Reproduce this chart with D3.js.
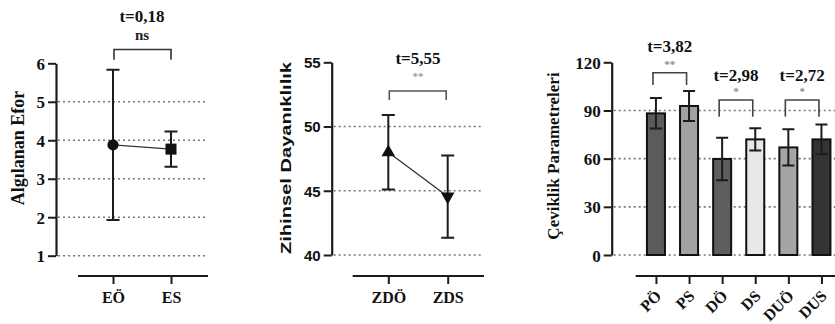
<!DOCTYPE html>
<html><head><meta charset="utf-8">
<script src="https://cdn.jsdelivr.net/npm/d3@7"></script>
<style>
html,body{margin:0;padding:0;background:#fff;}
svg{display:block;}
</style></head>
<body>
<svg id="c" width="835" height="324"></svg>
<script>
// ---- Panel 1: Algılanan Efor
const p1Cats = ["EÖ", "ES"];
const p1Mean = [3.88, 3.77];
const p1Err = [1.95, 0.46];
const p1Ticks = [1, 2, 3, 4, 5, 6];
const p1Grid = [1, 2, 3, 4, 5];
const p1Test = { t: "t=0,18", sig: "ns" };

// ---- Panel 2: Zihinsel Dayanıklılık
const p2Cats = ["ZDÖ", "ZDS"];
const p2Mean = [48.0, 44.55];
const p2Err = [2.9, 3.2];
const p2Ticks = [40, 45, 50, 55];
const p2Grid = [40, 45, 50];
const p2Test = { t: "t=5,55", sig: "**" };

// ---- Panel 3: Çeviklik Parametreleri
const p3Cats = ["PÖ", "PS", "DÖ", "DS", "DUÖ", "DUS"];
const p3Mean = [88.2, 92.8, 59.8, 72.0, 67.0, 72.0];
const p3Err = [9.5, 9.4, 13.2, 7.0, 11.3, 9.3];
const p3Ticks = [0, 30, 60, 90, 120];
const p3Grid = [0, 30, 60, 90];
const p3Tests = [
  { a: "PÖ", b: "PS", t: "t=3,82", sig: "**" },
  { a: "DÖ", b: "DS", t: "t=2,98", sig: "*" },
  { a: "DUÖ", b: "DUS", t: "t=2,72", sig: "*" }
];
const p3Fill = ["#5b5b5b", "#a2a2a2", "#5e5e5e", "#e8e8e8", "#a5a5a5", "#343434"];

const svg = d3.select("#c");
const INK = "#1c1c1c";
const SERIF = "Liberation Serif, Times New Roman, serif";
const SANS = "Liberation Sans, Arial, sans-serif";

function yAxis(g, y, ticks, font, x0, size) {
  const ax = g.append("g").attr("transform", `translate(${x0},0)`)
    .call(d3.axisLeft(y).tickValues(ticks).tickSize(8).tickPadding(3).tickSizeOuter(0).tickFormat(d3.format("d")));
  ax.attr("font-family", font).attr("font-size", size);
  ax.select(".domain").attr("stroke", INK).attr("stroke-width", 2.2);
  ax.selectAll(".tick line").attr("stroke", INK).attr("stroke-width", 2);
  ax.selectAll(".tick text").attr("fill", "#111").style("font-family", font)
    .style("font-weight", "bold").style("font-size", size + "px").attr("dy", "0.36em");
  return ax;
}
function grid(g, y, vals, x0, x1) {
  g.append("g").selectAll("line").data(vals).join("line")
    .attr("x1", x0 + 2).attr("x2", x1).attr("y1", d => y(d)).attr("y2", d => y(d))
    .attr("stroke", "#777").attr("stroke-width", 1.6).attr("stroke-dasharray", "2,3");
}
function xAxis(g, x, yPos, lx0, lx1, font, rotate) {
  const ax = g.append("g").attr("transform", `translate(0,${yPos})`)
    .call(d3.axisBottom(x).tickSize(8).tickSizeOuter(0).tickPadding(8));
  ax.attr("font-family", font).attr("font-size", 16);
  ax.select(".domain").remove();
  ax.append("line").attr("x1", lx0).attr("x2", lx1).attr("y1", 0).attr("y2", 0)
    .attr("stroke", INK).attr("stroke-width", 2.2);
  ax.selectAll(".tick line").attr("stroke", INK).attr("stroke-width", 2);
  const t = ax.selectAll(".tick text").attr("fill", "#111").style("font-family", font)
    .style("font-weight", "bold").style("font-size", "16px");
  if (rotate) {
    t.attr("text-anchor", "end").attr("dy", "0.35em").attr("y", 0)
      .attr("transform", "translate(2,17) rotate(-45)");
  }
  return ax;
}
function yLabel(text, cx, cy, font, size, len) {
  const t = svg.append("text").attr("transform", `translate(${cx},${cy}) rotate(-90)`)
    .attr("text-anchor", "middle").attr("dominant-baseline", "central")
    .style("font-family", font).style("font-weight", "bold").style("font-size", size + "px")
    .attr("fill", "#111").text(text);
  if (len) t.attr("textLength", len).attr("lengthAdjust", "spacingAndGlyphs");
}
function bracket(xa, xb, yTop, yLeg, col) {
  svg.append("path")
    .attr("d", `M${xa},${yLeg}V${yTop}H${xb}V${yLeg}`)
    .attr("fill", "none").attr("stroke", col).attr("stroke-width", 1.6);
}
function label(txt, x, y, size, col, font) {
  svg.append("text").attr("x", x).attr("y", y).attr("text-anchor", "middle")
    .style("font-family", font || SERIF).style("font-weight", "bold")
    .style("font-size", size + "px").attr("fill", col).text(txt);
}
function errBars(g, xs, means, errs, y, cap) {
  g.selectAll(null).data(means).join("path")
    .attr("d", (d, i) => {
      const x = xs[i], t = y(d + errs[i]), b = y(d - errs[i]);
      return `M${x - cap},${t}H${x + cap}M${x},${t}V${b}M${x - cap},${b}H${x + cap}`;
    })
    .attr("fill", "none").attr("stroke", INK).attr("stroke-width", 2);
}

// ================= Panel 1 =================
{
  const y = d3.scaleLinear().domain([1, 6]).range([255.7, 63.3]);
  const x = d3.scalePoint().domain(p1Cats).range([113, 171]);
  const g = svg.append("g");
  grid(g, y, p1Grid, 56, 208);
  yAxis(g, y, p1Ticks, SERIF, 56, 17);
  xAxis(g, x, 276, 78, 208, SERIF, false);
  const xs = p1Cats.map(c => x(c));
  g.append("path").datum(p1Mean)
    .attr("d", d3.line().x((d, i) => xs[i]).y(d => y(d)))
    .attr("stroke", "#333").attr("stroke-width", 1.3).attr("fill", "none");
  errBars(g, xs, p1Mean, p1Err, y, 6.5);
  g.append("circle").attr("cx", xs[0]).attr("cy", y(p1Mean[0])).attr("r", 5.6).attr("fill", "#111");
  g.append("rect").attr("x", xs[1] - 5.5).attr("y", y(p1Mean[1]) - 5.5)
    .attr("width", 11).attr("height", 11).attr("fill", "#111");
  yLabel("Algılanan Efor", 18, 148, SERIF, 18);
  bracket(xs[0] + 1, xs[1], y(6.36), y(6.09), "#333");
  label(p1Test.t, (xs[0] + xs[1]) / 2, 22, 17, "#111");
  label(p1Test.sig, (xs[0] + xs[1]) / 2, 40, 15, "#222");
}

// ================= Panel 2 =================
{
  const y = d3.scaleLinear().domain([40, 55]).range([255, 62.3]);
  const x = d3.scalePoint().domain(p2Cats).range([388.3, 447.7]);
  const g = svg.append("g");
  grid(g, y, p2Grid, 331.7, 483);
  yAxis(g, y, p2Ticks, SANS, 331.7, 15);
  xAxis(g, x, 276, 352.7, 484, SERIF, false);
  const xs = p2Cats.map(c => x(c));
  g.append("path").datum(p2Mean)
    .attr("d", d3.line().x((d, i) => xs[i]).y(d => y(d)))
    .attr("stroke", "#333").attr("stroke-width", 1.3).attr("fill", "none");
  errBars(g, xs, p2Mean, p2Err, y, 6.5);
  const tri = d3.symbol().type(d3.symbolTriangle).size(80);
  g.append("path").attr("d", tri()).attr("fill", "#111")
    .attr("transform", `translate(${xs[0]},${y(p2Mean[0])})`);
  g.append("path").attr("d", tri()).attr("fill", "#111")
    .attr("transform", `translate(${xs[1]},${y(p2Mean[1])}) rotate(180)`);
  yLabel("Zihinsel Dayanıklılık", 286, 158, SANS, 14, 192);
  bracket(xs[0] + 1, xs[1] - 1.5, y(52.77), y(52.06), "#555");
  label(p2Test.t, (xs[0] + xs[1]) / 2, 64, 17, "#111");
  label(p2Test.sig, (xs[0] + xs[1]) / 2, 80, 11, "#999");
}

// ================= Panel 3 =================
{
  const y = d3.scaleLinear().domain([0, 120]).range([255, 62.3]);
  const x = d3.scaleBand().domain(p3Cats).range([639.4, 838]).paddingInner(0.456).paddingOuter(0.228);
  const g = svg.append("g");
  grid(g, y, p3Grid, 611.7, 835);
  g.selectAll("rect.bar").data(p3Mean).join("rect").attr("class", "bar")
    .attr("x", (d, i) => x(p3Cats[i])).attr("width", x.bandwidth())
    .attr("y", d => y(d)).attr("height", d => y(0) - y(d))
    .attr("fill", (d, i) => p3Fill[i]).attr("stroke", "#111").attr("stroke-width", 2);
  yAxis(g, y, p3Ticks, SERIF, 611.7, 17);
  const xs = p3Cats.map(c => x(c) + x.bandwidth() / 2);
  errBars(g, xs, p3Mean, p3Err, y, 6);
  const xp = d3.scalePoint().domain(p3Cats).range([xs[0], xs[5]]);
  xAxis(g, xp, 276, 635.7, 835, SERIF, true);
  yLabel("Çeviklik Parametreleri", 553, 156, SERIF, 17);
  const levels = [[113.5, 105.8], [96.5, 86.1], [96.5, 86.1]];
  const tY = [52, 81, 81], sY = [68, 95, 95];
  p3Tests.forEach((tst, k) => {
    const xa = x(tst.a) + x.bandwidth() / 2 - 3, xb = x(tst.b) + x.bandwidth() / 2 - 2.5;
    bracket(xa, xb, y(levels[k][0]), y(levels[k][1]), "#444");
    label(tst.t, (xa + xb) / 2, tY[k], 17, "#111");
    label(tst.sig, (xa + xb) / 2, sY[k], 11, "#888");
  });
}
</script>
</body></html>
